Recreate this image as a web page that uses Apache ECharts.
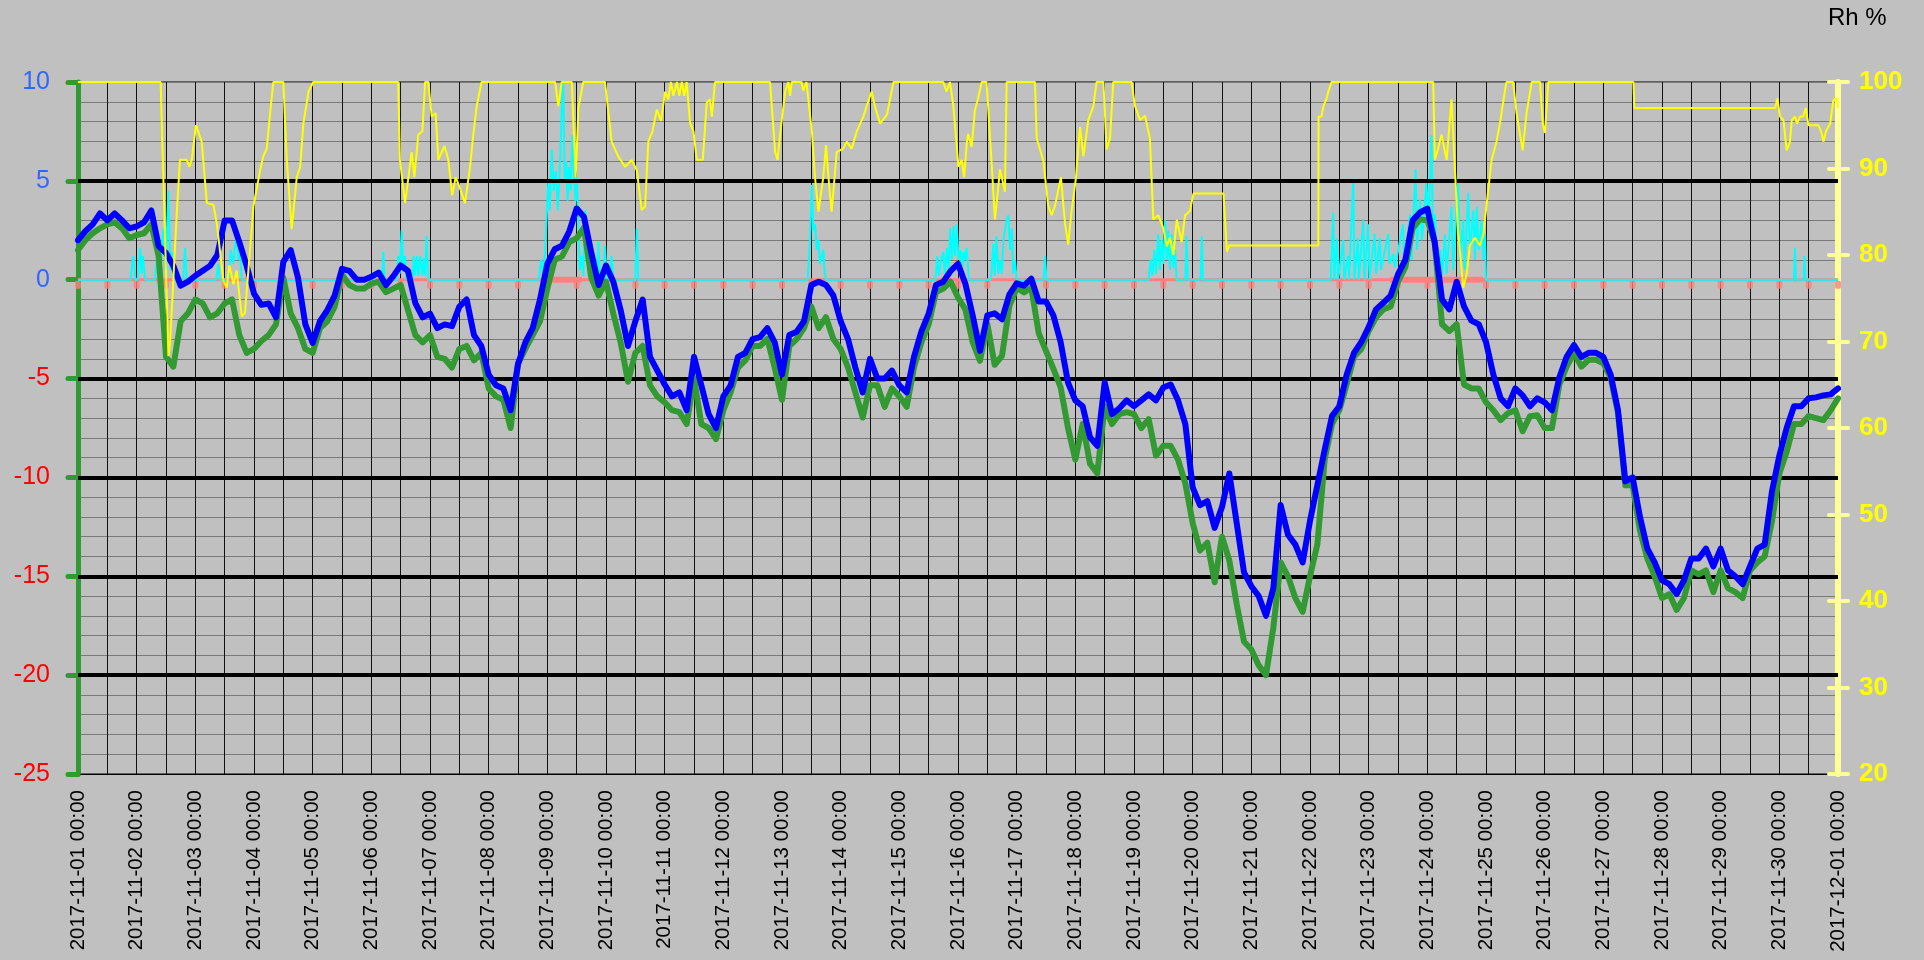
<!DOCTYPE html>
<html>
<head>
<meta charset="utf-8">
<script src="https://cdn.jsdelivr.net/npm/echarts@6/dist/echarts.min.js"></script>
<style>
html,body{margin:0;padding:0;background:#c0c0c0;}
#chart{width:1924px;height:960px;}
</style>
</head>
<body>
<div id="chart"></div>
<script>
// ---- data ----
const dayLabels = ["2017-11-01 00:00","2017-11-02 00:00","2017-11-03 00:00","2017-11-04 00:00","2017-11-05 00:00","2017-11-06 00:00","2017-11-07 00:00","2017-11-08 00:00","2017-11-09 00:00","2017-11-10 00:00","2017-11-11 00:00","2017-11-12 00:00","2017-11-13 00:00","2017-11-14 00:00","2017-11-15 00:00","2017-11-16 00:00","2017-11-17 00:00","2017-11-18 00:00","2017-11-19 00:00","2017-11-20 00:00","2017-11-21 00:00","2017-11-22 00:00","2017-11-23 00:00","2017-11-24 00:00","2017-11-25 00:00","2017-11-26 00:00","2017-11-27 00:00","2017-11-28 00:00","2017-11-29 00:00","2017-11-30 00:00","2017-12-01 00:00"];
const leftTicks = [-25,-20,-15,-10,-5,0,5,10];
const rightTicks = [20,30,40,50,60,70,80,90,100];
const stepHours = 3;

// blue series (3-hourly, °C)
const blueTemp = [
 2.0,2.45,2.8,3.35,3.0,3.35,3.0,2.6,
 2.7,2.9,3.5,1.7,1.35,0.7,-0.3,-0.1,
 0.2,0.45,0.7,1.25,3.0,3.0,1.9,0.7,
 -0.7,-1.27,-1.2,-1.9,0.9,1.5,0.1,-2.26,
 -3.2,-2.1,-1.54,-0.8,0.55,0.45,0.0,0.0,
 0.15,0.36,-0.27,0.18,0.72,0.45,-1.18,-1.9,
 -1.72,-2.45,-2.26,-2.35,-1.36,-1.0,-2.8,-3.35,
 -4.8,-5.34,-5.5,-6.6,-4.26,-3.17,-2.45,-1.0,
 0.8,1.54,1.72,2.45,3.6,3.17,1.36,-0.27,
 0.72,-0.1,-1.54,-3.35,-2.1,-1.0,-3.9,-4.6,
 -5.3,-5.9,-5.7,-6.6,-3.9,-5.34,-6.8,-7.5,
 -5.9,-5.34,-3.9,-3.7,-3.0,-2.9,-2.45,-3.17,
 -4.8,-2.8,-2.63,-2.1,-0.27,-0.1,-0.27,-0.8,
 -2.1,-3.0,-4.44,-5.7,-4.0,-5.0,-5.0,-4.6,
 -5.34,-5.7,-3.9,-2.63,-1.72,-0.27,-0.1,0.45,
 0.8,-0.2,-1.8,-3.6,-1.8,-1.7,-2.0,-0.75,
 -0.18,-0.3,0.05,-1.1,-1.1,-1.8,-3.16,-5.2,
 -6.1,-6.4,-7.97,-8.4,-5.2,-6.8,-6.5,-6.1,
 -6.4,-6.1,-5.8,-6.1,-5.45,-5.3,-6.1,-7.3,
 -10.5,-11.4,-11.2,-12.55,-11.5,-9.8,-12.3,-14.8,
 -15.5,-16.0,-17.0,-15.6,-11.4,-12.9,-13.4,-14.3,
 -12.2,-10.4,-8.6,-6.9,-6.4,-4.8,-3.7,-3.15,
 -2.4,-1.5,-1.17,-0.8,0.27,1.0,3.0,3.4,
 3.6,1.9,-1.0,-1.5,-0.1,-1.35,-2.07,-2.25,
 -3.15,-4.8,-6.0,-6.4,-5.5,-5.85,-6.4,-6.0,
 -6.2,-6.6,-4.95,-3.9,-3.3,-3.9,-3.7,-3.7,
 -3.9,-4.8,-6.6,-10.2,-10.0,-12.0,-13.6,-14.3,
 -15.2,-15.4,-15.9,-15.2,-14.1,-14.1,-13.6,-14.5,
 -13.6,-14.7,-15.0,-15.4,-14.5,-13.6,-13.4,-10.7,
 -8.9,-7.5,-6.4,-6.4,-6.0,-5.95,-5.85,-5.8,
 -5.5
];

// green series (3-hourly, °C)
const greenTemp = [
 1.5,2.0,2.35,2.6,2.8,2.9,2.6,2.1,
 2.26,2.35,2.8,1.2,-3.9,-4.4,-2.1,-1.7,
 -1.0,-1.2,-1.9,-1.7,-1.2,-1.0,-2.8,-3.7,
 -3.5,-3.1,-2.8,-2.26,0.1,-1.7,-2.45,-3.5,
 -3.7,-2.45,-2.1,-1.36,0.27,-0.27,-0.45,-0.45,
 -0.2,-0.1,-0.63,-0.45,-0.27,-1.54,-2.8,-3.17,
 -2.8,-3.9,-4.0,-4.44,-3.5,-3.35,-4.08,-3.7,
 -5.5,-5.9,-6.07,-7.5,-4.26,-3.5,-2.8,-2.1,
 -0.45,1.0,1.18,1.9,2.1,2.63,0.1,-0.8,
 -0.1,-1.72,-3.17,-5.16,-3.7,-3.35,-5.34,-5.9,
 -6.2,-6.6,-6.7,-7.3,-5.0,-7.3,-7.5,-8.06,
 -6.6,-5.7,-4.44,-4.08,-3.35,-3.35,-3.0,-4.44,
 -6.07,-3.35,-3.0,-2.45,-1.36,-2.45,-1.9,-3.0,
 -3.5,-4.44,-5.7,-6.97,-5.34,-5.34,-6.43,-5.5,
 -5.9,-6.43,-4.44,-3.17,-2.26,-0.63,-0.45,-0.1,
 -0.9,-1.5,-3.16,-4.1,-2.24,-4.3,-3.85,-1.33,
 -0.41,-0.64,-0.41,-2.7,-3.6,-4.5,-5.45,-7.5,
 -9.1,-7.3,-9.3,-9.8,-6.4,-7.3,-6.8,-6.7,
 -6.8,-7.5,-7.05,-8.9,-8.4,-8.4,-9.1,-10.3,
 -12.3,-13.7,-13.3,-15.3,-13.0,-14.2,-16.4,-18.3,
 -18.7,-19.5,-20.0,-17.6,-14.3,-15.0,-16.1,-16.8,
 -15.0,-13.4,-9.1,-7.3,-6.6,-5.3,-3.9,-3.5,
 -2.6,-1.9,-1.5,-1.35,-0.1,0.63,2.6,3.06,
 3.0,1.9,-2.25,-2.6,-2.25,-5.3,-5.5,-5.5,
 -6.2,-6.6,-7.1,-6.75,-6.6,-7.66,-6.9,-6.85,
 -7.5,-7.5,-5.3,-4.4,-3.7,-4.4,-4.05,-4.05,
 -4.23,-4.95,-6.75,-10.4,-10.4,-12.7,-14.1,-15.0,
 -16.1,-15.9,-16.7,-16.1,-14.7,-14.9,-14.7,-15.8,
 -14.7,-15.6,-15.8,-16.1,-14.7,-14.3,-14.0,-12.2,
 -9.8,-8.7,-7.3,-7.3,-6.9,-7.0,-7.1,-6.6,
 -6.0
];

// relative humidity [hour, %]
const rhPoints = [
 [0,100],[33.8,100],[37,68.3],[37.7,70],[40.4,84.8],[41.7,91],[44.5,91],[45.6,90.2],[46.5,91],[48.3,95],[50.6,93.1],[52.7,86],[55.4,85.8],[56.8,83.6],[59.5,77],[60.8,76.2],[61.9,78.8],[63.6,76.6],[64.9,78.2],[67,72.9],[68.3,73.3],[69.7,78.2],[71.8,85.7],[74.5,89.8],[75.8,91.4],[77.2,92.3],[78.6,96.4],[79.9,100],[84,100],[85.4,91],[87.4,83],[89.5,89],[90.9,90.2],[92.2,95.2],[94.3,98.9],[96.3,100],
 [131,100],[131.7,91],[133.8,86],[136.5,91.9],[137.6,89],[139.2,93.9],[140.9,94.3],[142,100],[143.3,100],[144.7,96],[146.3,96.4],[147.4,91],[149.9,92.6],[151.5,91],[153.1,86.9],[154.5,89],[156.3,87.7],[158.3,86],[160.4,90.2],[161.7,93.9],[163.1,97.2],[165.1,100],[195.2,100],[196.5,97.2],[197.9,100],[202,100],[203.6,89],[204.7,97],[206.7,100],[215.6,100],[218.3,93.1],[221,91.4],[223.8,90.2],[226.5,91],[228.6,89.8],[230.6,85.2],[232,85.6],[233.3,93.1],[235,94.3],[236.8,96.8],[238.5,95.5],[240.2,98.9],[241.5,98],[242.5,100],[243.6,98.4],[245,100],[246,98.4],[247,100],[248,98.4],[249,100],[250.4,95.2],[251.8,94.3],[253.1,91],[255.6,91],[257.2,97.6],[258.5,98],[259.3,96],[260.6,100],
 [283.1,100],[285.2,91.9],[286.2,91],[287.2,93.9],[289.3,98.9],[290.6,100],[291.3,98.4],[292,100],[296,100],[296.7,99],[298,100],[300.2,94.3],[301.5,89],[302.9,85],[304.9,89],[306,92.7],[307,89],[308.3,85],[310.4,91.9],[313,92.3],[314.5,93.1],[316.5,92.3],[318.6,94.3],[321.3,96],[322.6,97.2],[324.7,98.9],[326,97.2],[328.1,95.2],[330.9,96.2],[333.6,100],[354,100],[355.3,98.9],[356.7,100],[358.1,97.2],[360.2,90.2],[361.5,91],[362.5,89],[363.6,93],[364.2,94],[365.6,92.5],[366.9,96.7],[368.3,98.2],[369.7,100],[371.7,100],[373.8,90.4],[375.1,84.1],[377.2,89.9],[379.2,87.3],[379.9,100],[391.5,100],[392.2,93.5],[394.9,90.9],[396.9,85.7],[398.3,84.6],[399.7,85.7],[402.1,89],[403.8,83.6],[405.1,81.2],[406.5,85.2],[408.2,88.8],[409.9,94.8],[411.3,91.4],[413.3,95.6],[415.4,97.2],[416.7,100],[419.5,100],[420.8,92.2],[422.2,93.5],[423.5,100],[431,100],[432.4,97.2],[434.5,95.6],[436.5,96.1],[438.5,93.5],[439.9,84.1],[441.9,84.6],[444,83.1],[445.4,81],[446.7,82],[448.1,80],[449.5,84.1],[451.5,81.5],[452.9,84.6],[454.9,85.1],[456.3,87.1],[468.6,87.1],[470,80.4],[471,81.1],
 [507.4,81.1],[507.5,96],[508.7,96],[509.5,97.2],[510.8,98.1],[511.5,98.9],[512.8,100],[554.4,100],[555.1,91],[556.4,92.3],[557.8,93.9],[559.9,91],[561.9,98],[563.3,89.8],[564.6,82.8],[566.7,76.2],[568.1,77.8],[569.4,81.1],[571.5,82],[573.5,81.1],[574.9,82.4],[576.2,85.7],[578.3,91],[580.3,93.1],[581.7,95.2],[583.7,98.9],[584.4,100],[587.1,100],[588.5,96.4],[591,92.1],[592.6,96.4],[594.7,100],[598.1,100],[599.2,95.2],[600.1,94.1],[601.5,100],[636.3,100],[636.7,97],[694.3,97],[695.2,98.1],[696.3,96],[697.7,95.6],[699,92.1],[700.3,93],[701.1,95.6],[702.4,96],[703.2,95.2],[704.5,96],[705.8,96],[706.8,97],[707.9,95],[712,95],[713.4,94],[714,93.1],[715.1,94.3],[716.8,95.2],[718.1,97.9],[719.5,98.1],[720,97]
];

// cyan series [hour, value]
const cyanPoints = [
 [0,0],
 [21.5,0],[22.6,1.2],[23.5,0],[24.5,0],[25.4,1.6],[26,0.3],[26.5,1.2],[27.5,0],
 [31.5,0],[32.5,1.5],[33.5,0.3],[34.9,2.6],[35.8,0.5],[37,4.5],[37.7,0.5],[38.3,1.4],[39,0],
 [43,0],[43.8,1.6],[44.5,0],[56.5,0],[57.4,0.8],[58,0],
 [61.5,0],[62.5,1.5],[63.5,0.8],[64.9,2.4],[65.7,1.0],[66.3,1.3],[67,0],
 [124.4,0],[124.9,1.4],[125.4,0],
 [130.5,0],[131,1.2],[131.6,0.3],[132.4,2.5],[133.1,0.4],[133.8,1.2],[134.4,0],
 [136.8,0],[137.3,1.2],[137.9,0.2],[138.6,1.2],[139.2,0.2],[140,1.2],[140.8,0.2],[141.5,1.1],[142,0.2],[142.6,2.2],[143.3,0],
 [188.5,0],[189.5,1.0],[190.3,0.3],[191.1,1.4],[192.4,5.0],[193,3.5],[193.8,6.6],[194.6,4.5],[195.5,5.5],[196.3,3.5],[197.2,6.0],[197.9,8.5],[198.5,10.2],[199.1,5.0],[199.7,6.0],[200.3,4.0],[200.8,5.7],[201.5,4.5],[202.2,7.3],[202.7,6.0],[203.5,4.0],[204,5.2],[204.6,3.0],[205.3,0.5],[206,1.2],[206.7,0.2],[207.4,3.5],[208.1,3.0],[208.8,0.2],[209.5,1.0],[210.3,0],
 [212.3,0],[212.9,1.9],[213.5,0],[215,0],[215.6,1.7],[216.3,0],[217.7,0],[218.3,1.2],[219,0],
 [228,0],[228.6,2.6],[229.2,0],
 [298.5,0],[299.5,2.0],[300.2,4.8],[300.8,2.5],[301.5,2.8],[302.2,1.5],[302.9,2.0],[303.5,0.8],[304.9,1.5],[305.5,0.3],[306,0],
 [350.8,0],[351.5,1.2],[352.2,0.2],[353,1.0],[354,1.4],[354.6,0.3],[355.5,1.6],[356.2,0.5],[356.8,2.6],[357.5,1.0],[358.1,2.7],[358.8,1.2],[359.5,2.8],[360.2,1.0],[361,1.5],[361.7,0.5],[362.2,1.4],[362.8,1.0],[363.5,1.6],[364.5,0],
 [373.3,0],[373.8,0.5],[374.4,1.8],[375,0.2],[375.7,2.2],[376.5,0.3],[377.2,1.0],[377.9,0.3],[378.6,2.0],[379.2,2.5],[379.9,3.0],[380.6,3.25],[381.3,1.5],[382,2.6],[382.6,0.3],[383.3,1.0],[384,0],
 [395,0],[395.6,1.2],[396.2,0],
 [438,0],[438.8,1.0],[439.5,0.2],[440.3,1.5],[441,0.3],[441.9,2.3],[442.6,0.5],[443.3,2.0],[444,0.8],[444.7,3.0],[445.4,1.0],[446,2.5],[446.7,0.5],[447.4,2.3],[448.1,0.6],[448.8,1.5],[449.5,0],
 [453,0],[453.5,2.2],[454,0],[459.2,0],[459.7,2.2],[460.2,0],
 [512.5,0],[513.5,3.4],[514,0],[515,2.1],[515.5,0],[517.6,2.0],[518,0],[519.6,1.2],[520,0],[521.7,5.1],[522.2,0],[523.6,2.1],[524,0],[525.8,3.0],[526.3,0],[527.8,2.8],[528.3,0],[530.5,2.3],[531,0.3],[532.6,2.1],[533,0.5],[536,2.3],[536.5,0.8],[538.1,1.3],[538.7,0.6],[542.1,2.8],[542.6,0.5],[544.9,3.3],[545.5,1.0],[547.2,5.6],[547.8,1.5],[549,4.05],[549.8,2.0],[551.7,4.95],[552.4,2.5],[553.7,7.3],[554.3,2.5],[555.1,3.3],[556,1.0],[557.2,1.5],[558,0.2],[559.2,2.3],[559.9,0.3],[561.9,3.7],[562.6,0.5],[564.6,5.1],[565.3,1.0],[566.7,3.0],[567.3,0.5],[568.7,4.4],[569.4,1.5],[570.8,3.5],[571.5,1.0],[572.2,3.7],[573,1.5],[574.2,3.0],[575,1.0],[575.6,2.3],[576,0],
 [702,0],[702.4,1.6],[702.8,0],[706,0],[706.3,1.2],[706.7,0],
 [720,0]
];

// pink indicator: periods where it is active [startHour, endHour]
const pinkPeriods = [[191.8,206],[536.7,574.9]];
const pinkMarkHours = [0,12,24,36,48,60,72,84,96,108,120,132,144,156,168,180,192,204,216,228,240,252,264,276,288,300,312,324,336,348,360,372,384,396,408,420,432,444,456,468,480,492,504,516,528,540,552,564,576,588,600,612,624,636,648,660,672,684,696,708,720];
const majorBlackLines = [5,-5,-10,-15,-20];

// ---- build ----
const FONT = 'Liberation Sans, Arial, sans-serif';
const blueData = blueTemp.map((v,i)=>[i*stepHours, v]);
const greenData = greenTemp.map((v,i)=>[i*stepHours, v]);
const pinkThickData = [];
pinkPeriods.forEach(p=>{ pinkThickData.push([p[0],0],[p[1],0],[p[1]+0.01,null]); });

const chart = echarts.init(document.getElementById('chart'), null, {renderer:'canvas'});
chart.setOption({
  backgroundColor:'#c0c0c0',
  animation:false,
  textStyle:{fontFamily:FONT},
  grid:{left:78,right:86,top:82,bottom:186,show:true,borderColor:'#000',borderWidth:1,backgroundColor:'transparent'},
  graphic:[{type:'text',left:1828,top:6,style:{text:'Rh %',fontSize:24,fontFamily:FONT,fill:'#000'}}],
  xAxis:{
    type:'value',min:0,max:720,interval:24,
    axisLine:{show:true,onZero:false,lineStyle:{color:'#000',width:1}},
    axisTick:{show:false},
    axisLabel:{rotate:90,fontSize:20.5,color:'#000',margin:16,fontFamily:FONT,
      formatter:(v)=>dayLabels[Math.round(v/24)]||''},
    splitLine:{show:true,lineStyle:{color:'#111',width:1}},
    minorTick:{show:false,splitNumber:2},
    minorSplitLine:{show:true,lineStyle:{color:'#111',width:1}}
  },
  yAxis:[
    {type:'value',position:'left',min:leftTicks[0],max:leftTicks[leftTicks.length-1],interval:5,
     axisLine:{show:true,onZero:false,lineStyle:{color:'#339933',width:5}},
     axisTick:{show:true,length:10,lineStyle:{color:'#339933',width:5,cap:'round'}},
     axisLabel:{fontSize:25,margin:28,fontFamily:FONT,color:(v)=> (Number(v) >= 0 ? '#3366ff' : '#ff0000')},
     splitLine:{show:true,lineStyle:{color:'#7a7a7a',width:1}},
     minorTick:{show:false,splitNumber:5},
     minorSplitLine:{show:true,lineStyle:{color:'#7a7a7a',width:1}}
    },
    {type:'value',position:'right',min:rightTicks[0],max:rightTicks[rightTicks.length-1],interval:10,offset:0,
     axisLine:{show:true,onZero:false,lineStyle:{color:'#ffff99',width:6}},
     axisTick:{show:true,length:10,lineStyle:{color:'#ffff99',width:4,cap:'round'}},
     axisLabel:{fontSize:26,fontWeight:'bold',color:'#ffff00',margin:21,fontFamily:FONT},
     splitLine:{show:false}
    },
    {type:'value',position:'right',min:rightTicks[0],max:rightTicks[rightTicks.length-1],interval:10,offset:0,
     axisLine:{show:false,onZero:false},
     axisTick:{show:true,inside:true,length:9,lineStyle:{color:'#ffff99',width:4,cap:'round'}},
     axisLabel:{show:false},
     splitLine:{show:false}
    }
  ],
  series:[
    {name:'pinkBase',type:'line',yAxisIndex:0,z:2,showSymbol:false,silent:true,
     data:[[0,0],[720,0]],lineStyle:{color:'#ff8080',width:3},
     markLine:{silent:true,symbol:['none','none'],label:{show:false},
       lineStyle:{color:'#000',width:4,type:'solid'},
       data:majorBlackLines.map(v=>({yAxis:v}))}
    },
    {name:'pinkThick',type:'line',yAxisIndex:0,z:3,showSymbol:false,silent:true,connectNulls:false,
     data:pinkThickData,lineStyle:{color:'#ff8080',width:6}},
    {name:'pinkMarks',type:'scatter',yAxisIndex:0,z:3,silent:true,
     symbol:'roundRect',symbolSize:[6,8],symbolOffset:[0,5],
     itemStyle:{color:'#ff8080'},data:pinkMarkHours.map(h=>[h,0])},
    {name:'cyan',type:'line',yAxisIndex:0,z:4,showSymbol:false,silent:true,
     data:cyanPoints,lineStyle:{color:'#00ffff',width:2}},
    {name:'green',type:'line',yAxisIndex:0,z:5,showSymbol:false,silent:true,
     data:greenData,lineStyle:{color:'#339933',width:6,join:'round',cap:'round'}},
    {name:'blue',type:'line',yAxisIndex:0,z:6,showSymbol:false,silent:true,
     data:blueData,lineStyle:{color:'#0000ff',width:6,join:'round',cap:'round'}},
    {name:'rh',type:'line',yAxisIndex:1,z:7,showSymbol:false,silent:true,
     data:rhPoints,lineStyle:{color:'#ffff00',width:2}}
  ]
});
</script>
</body>
</html>
